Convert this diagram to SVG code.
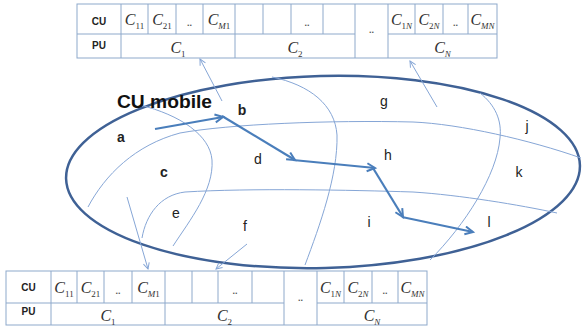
<svg xmlns="http://www.w3.org/2000/svg" width="583" height="329" viewBox="0 0 583 329">
<style>
.grid{fill:#fff;stroke:#8ea9cb;stroke-width:1}
.gl{stroke:#8ea9cb;stroke-width:1;fill:none}
.lab{font-family:"Liberation Sans",Arial,sans-serif;font-weight:bold;font-size:10px;fill:#222;text-anchor:middle}
.cm{font-family:"Liberation Serif","Times New Roman",serif;font-style:italic;font-size:16px;fill:#333;text-anchor:middle}
.sb{font-size:9px}
.up{font-style:normal}
.dots{font-family:"Liberation Sans",Arial,sans-serif;font-size:9px;font-weight:bold;fill:#555;text-anchor:middle}
.reg{font-family:"Liberation Sans",Arial,sans-serif;font-size:14px;fill:#222;text-anchor:middle}
.regb{font-family:"Liberation Sans",Arial,sans-serif;font-size:14px;font-weight:bold;fill:#222;text-anchor:middle}
.title{font-family:"Liberation Sans",Arial,sans-serif;font-size:18px;font-weight:bold;fill:#111}
.thin{stroke:#86a6d6;stroke-width:1;fill:none}
.move{stroke:#4a7ebb;stroke-width:2.2;fill:none;marker-end:url(#thick)}
.ptr{stroke:#86a6d6;stroke-width:1;fill:none;marker-end:url(#thinhead)}
</style>
<defs>
<marker id="thick" markerUnits="userSpaceOnUse" markerWidth="12" markerHeight="12" refX="9" refY="5" orient="auto">
<path d="M1,1 L9,5 L1,9" fill="none" stroke="#4a7ebb" stroke-width="2"/>
</marker>
<marker id="thinhead" markerUnits="userSpaceOnUse" markerWidth="10" markerHeight="10" refX="7" refY="4" orient="auto">
<path d="M1,1 L7,4 L1,7" fill="none" stroke="#86a6d6" stroke-width="1"/>
</marker>
</defs>
<rect width="583" height="329" fill="#fff"/>

<!-- top table -->
<g id="table-top" transform="translate(77,4)">
<rect class="grid" x="0" y="0" width="420" height="54"/>
<path class="gl" d="M0,30 H278 M311,30 H420 M44,0 V54 M158,0 V54 M278,0 V54 M311,0 V54 M71,0 V30 M99,0 V30 M126,0 V30 M186,0 V30 M214,0 V30 M246,0 V30 M338,0 V30 M366,0 V30 M391,0 V30"/>
<text class="lab" x="22" y="21">CU</text>
<text class="lab" x="22" y="45">PU</text>
<text class="cm" x="57.5" y="21">C<tspan class="sb up" dy="3.5">11</tspan></text>
<text class="cm" x="85" y="21">C<tspan class="sb up" dy="3.5">21</tspan></text>
<text class="dots" x="112.5" y="22">..</text>
<text class="cm" x="142" y="21">C<tspan class="sb" dy="3.5">M</tspan><tspan class="sb up">1</tspan></text>
<text class="dots" x="230" y="22">..</text>
<text class="cm" x="324.5" y="21">C<tspan class="sb up" dy="3.5">1</tspan><tspan class="sb">N</tspan></text>
<text class="cm" x="352" y="21">C<tspan class="sb up" dy="3.5">2</tspan><tspan class="sb">N</tspan></text>
<text class="dots" x="378.5" y="22">..</text>
<text class="cm" x="405.5" y="21">C<tspan class="sb" dy="3.5">MN</tspan></text>
<text class="cm" x="101" y="49">C<tspan class="sb up" dy="3.5">1</tspan></text>
<text class="cm" x="218" y="49">C<tspan class="sb up" dy="3.5">2</tspan></text>
<text class="cm" x="365.5" y="49">C<tspan class="sb" dy="3.5">N</tspan></text>
<text class="dots" x="294.5" y="29">..</text>
</g>

<!-- bottom table -->
<g id="table-bottom" transform="translate(6,271)">
<rect class="grid" x="0" y="0" width="421" height="54"/>
<path class="gl" d="M0,32 H278 M311,32 H421 M45,0 V54 M159,0 V54 M278,0 V54 M311,0 V54 M71,0 V32 M98,0 V32 M126,0 V32 M186,0 V32 M212,0 V32 M246,0 V32 M338,0 V32 M366,0 V32 M392,0 V32"/>
<text class="lab" x="22.5" y="20">CU</text>
<text class="lab" x="22.5" y="44">PU</text>
<text class="cm" x="58" y="22">C<tspan class="sb up" dy="3.5">11</tspan></text>
<text class="cm" x="84.5" y="22">C<tspan class="sb up" dy="3.5">21</tspan></text>
<text class="dots" x="112" y="23">..</text>
<text class="cm" x="142.5" y="22">C<tspan class="sb" dy="3.5">M</tspan><tspan class="sb up">1</tspan></text>
<text class="dots" x="229" y="23">..</text>
<text class="cm" x="324.5" y="22">C<tspan class="sb up" dy="3.5">1</tspan><tspan class="sb">N</tspan></text>
<text class="cm" x="352" y="22">C<tspan class="sb up" dy="3.5">2</tspan><tspan class="sb">N</tspan></text>
<text class="dots" x="379" y="23">..</text>
<text class="cm" x="406.5" y="22">C<tspan class="sb" dy="3.5">MN</tspan></text>
<text class="cm" x="102" y="50">C<tspan class="sb up" dy="3.5">1</tspan></text>
<text class="cm" x="218.5" y="50">C<tspan class="sb up" dy="3.5">2</tspan></text>
<text class="cm" x="366" y="50">C<tspan class="sb" dy="3.5">N</tspan></text>
<text class="dots" x="294.5" y="30">..</text>
</g>

<!-- coverage area -->
<g id="area">
<ellipse cx="323" cy="172" rx="257" ry="96" transform="rotate(-1.5 323 172)" fill="none" stroke="#3f6195" stroke-width="2.5"/>
<path class="thin" d="M140,105 C180,115 210,135 212,160 C214,190 190,220 173,246"/>
<path class="thin" d="M272,77 C310,85 335,105 337,135 C338,175 320,225 305,265"/>
<path class="thin" d="M480,93 C495,105 502,120 500,138 C497,175 465,225 430,260"/>
<path class="thin" d="M88,207 C105,175 135,145 180,133 C230,124 330,120 413,122 C460,124 530,140 581,158"/>
<path class="thin" d="M142,238 C146,215 160,195 185,192 C250,188 350,190 413,192 C460,195 520,205 557,213"/>
</g>

<g id="title"><text class="title" x="117" y="108" textLength="95" lengthAdjust="spacingAndGlyphs">CU mobile</text></g>
<g id="region-a"><text class="regb" x="121" y="142">a</text></g>
<g id="region-b"><text class="regb" x="242" y="115">b</text></g>
<g id="region-c"><text class="regb" x="164" y="177">c</text></g>
<g id="region-d"><text class="reg" x="258" y="164">d</text></g>
<g id="region-e"><text class="reg" x="176" y="218">e</text></g>
<g id="region-f"><text class="reg" x="245" y="231">f</text></g>
<g id="region-g"><text class="reg" x="384" y="106">g</text></g>
<g id="region-h"><text class="reg" x="388" y="160">h</text></g>
<g id="region-i"><text class="reg" x="369" y="227">i</text></g>
<g id="region-j"><text class="reg" x="527" y="131">j</text></g>
<g id="region-k"><text class="reg" x="519" y="177">k</text></g>
<g id="region-l"><text class="reg" x="489" y="227">l</text></g>

<g id="connectors">
<path class="ptr" d="M222,101 L200,59"/>
<path class="ptr" d="M437,107 L410,61"/>
<path class="ptr" d="M127,197 L148,269"/>
<path class="ptr" d="M247,244 L216,269"/>
<path class="move" d="M155,129 L223,117"/>
<path class="move" d="M222,116 L295,160"/>
<path class="move" d="M293,160 L375,168"/>
<path class="move" d="M373,168 L403,217"/>
<path class="move" d="M402,217 L473,232"/>
</g>
</svg>
